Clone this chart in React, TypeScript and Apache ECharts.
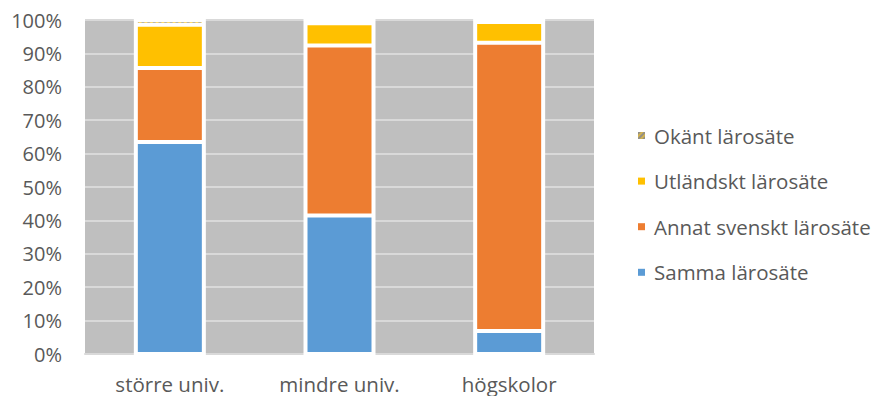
import React, { useEffect, useRef } from "react";
import * as echarts from "echarts";

// Andel per lärosätestyp (procent, staplat till 100 %)
const categories = ["större univ.", "mindre univ.", "högskolor"];
const sammaLarosate = [63.5, 41.5, 6.9];
const annatSvenskt = [22.1, 50.9, 86.3];
const utlandskt = [13.0, 6.6, 6.2];
const okant = [1.4, 1.0, 0.6];

const seriesNames = [
  "Samma lärosäte",
  "Annat svenskt lärosäte",
  "Utländskt lärosäte",
  "Okänt lärosäte",
];
const legendOrder = [
  "Okänt lärosäte",
  "Utländskt lärosäte",
  "Annat svenskt lärosäte",
  "Samma lärosäte",
];

const FONT = "'Open Sans', 'DejaVu Sans', sans-serif";
const TEXT = "#595959";

export default function App() {
  const ref = useRef<HTMLDivElement>(null);

  useEffect(() => {
    if (!ref.current) return;
    const chart = echarts.init(ref.current, undefined, { renderer: "svg" });

    const values = [sammaLarosate, annatSvenskt, utlandskt, okant];
    const colors = ["#5b9bd5", "#ed7d31", "#ffc000", "#ffc000"];

    const series = seriesNames.map((name, i) => {
      const itemStyle: any = {
        color: colors[i],
        borderColor: "#ffffff",
        borderWidth: 2,
      };
      if (i === 3) {
        // hatched fill for the unknown category
        itemStyle.decal = {
          color: "rgba(150,150,150,0.9)",
          dashArrayX: [1, 0],
          dashArrayY: [2, 2],
          rotation: -Math.PI / 4,
          symbolSize: 1,
        };
      }
      const s: any = {
        name,
        type: "bar",
        stack: "total",
        barWidth: 68,
        data: values[i],
        itemStyle,
        emphasis: { disabled: true },
      };
      if (i === 0) {
        // white frame around each whole column
        s.showBackground = true;
        s.backgroundStyle = {
          color: "#ffffff",
          borderColor: "#ffffff",
          borderWidth: 4,
        };
      }
      return s;
    });

    const legendData = legendOrder.map((name) =>
      name === "Okänt lärosäte"
        ? {
            name,
            itemStyle: {
              color: "#d2b250",
              borderWidth: 0,
              decal: {
                color: "rgba(140,140,140,0.9)",
                dashArrayX: [1, 0],
                dashArrayY: [2, 2],
                rotation: -Math.PI / 4,
                symbolSize: 1,
              },
            },
          }
        : { name }
    );

    chart.setOption({
      animation: false,
      textStyle: { fontFamily: FONT, color: TEXT },
      grid: {
        left: 85,
        right: 283,
        top: 20,
        bottom: 42,
        show: true,
        backgroundColor: "#bfbfbf",
        borderWidth: 0,
      },
      legend: {
        orient: "vertical",
        left: 638,
        top: 125,
        padding: 0,
        data: legendData,
        icon: "rect",
        itemWidth: 7,
        itemHeight: 7,
        itemGap: 24.6,
        itemStyle: { borderWidth: 0 },
        textStyle: {
          fontFamily: FONT,
          fontSize: 20.5,
          color: TEXT,
          lineHeight: 20,
          padding: [0, 0, 0, 4],
        },
        selectedMode: false,
      },
      xAxis: {
        type: "category",
        data: categories,
        axisLine: { show: true, lineStyle: { color: "#d9d9d9", width: 2 } },
        axisTick: { show: false },
        axisLabel: {
          fontFamily: FONT,
          fontSize: 20.5,
          color: TEXT,
          margin: 19,
        },
      },
      yAxis: {
        type: "value",
        min: 0,
        max: 100,
        interval: 10,
        axisLine: { show: false },
        axisTick: { show: false },
        splitLine: { lineStyle: { color: "#d9d9d9", width: 2 } },
        axisLabel: {
          formatter: "{value}%",
          fontFamily: FONT,
          fontSize: 20,
          color: TEXT,
          margin: 23,
        },
      },
      series,
    });

    return () => chart.dispose();
  }, []);

  return (
    <div
      ref={ref}
      style={{ position: "fixed", left: 0, top: 0, width: 877, height: 396, background: "#fff" }}
    />
  );
}
